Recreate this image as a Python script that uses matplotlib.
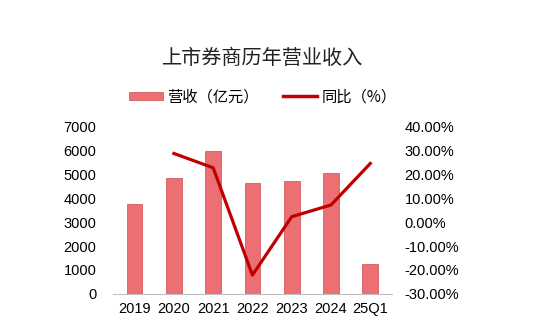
import matplotlib
matplotlib.use("Agg")
import matplotlib.pyplot as plt
from matplotlib.ticker import FuncFormatter
from matplotlib.lines import Line2D
from matplotlib.patches import Patch

categories = ["2019", "2020", "2021", "2022", "2023", "2024", "25Q1"]
revenue = [3780, 4860, 5970, 4640, 4720, 5070, 1260]
yoy_cats = ["2020", "2021", "2022", "2023", "2024", "25Q1"]
yoy = [28.8, 22.8, -22.2, 2.3, 7.2, 24.6]

plt.rcParams['font.family'] = ['Liberation Sans', 'Noto Sans CJK SC', 'DejaVu Sans']
cjk = ['Noto Sans CJK SC', 'DejaVu Sans']

fig = plt.figure(figsize=(5.5, 3.31), dpi=100)
ax = fig.add_axes([0.2055, 0.1127, 0.507, 0.5043])
x = list(range(len(categories)))
bar_color = "#EC7073"
ax.bar(x, revenue, width=0.4, color=bar_color, edgecolor="#D65C5F", linewidth=0.6, zorder=2)
ax.set_ylim(0, 7000)
ax.set_yticks(range(0, 7001, 1000))
ax.set_xlim(-0.55, 6.55)
ax.set_xticks(x)
ax.set_xticklabels(categories)
for s in ["top", "right", "left"]:
    ax.spines[s].set_visible(False)
ax.spines["bottom"].set_color("#BFBFBF")
ax.tick_params(axis="both", length=0, labelsize=10.5, colors="#000000")
ax.tick_params(axis="y", pad=12)
ax.tick_params(axis="x", pad=6)

ax2 = ax.twinx()
xi = [categories.index(c) for c in yoy_cats]
ax2.plot(xi, yoy, color="#C00000", linewidth=2.3, zorder=3)
ax2.set_ylim(-30, 40)
ax2.set_yticks(range(-30, 41, 10))
ax2.yaxis.set_major_formatter(FuncFormatter(lambda v, p: f"{v:.2f}%"))
for s in ["top", "right", "left", "bottom"]:
    ax2.spines[s].set_visible(False)
ax2.tick_params(axis="y", length=0, labelsize=10.5, pad=9)

fig.text(0.478, 0.822, "上市券商历年营业收入", fontsize=14.5, family=cjk, ha="center", va="center", color="#222222")

handles = [Patch(facecolor=bar_color, edgecolor="#D65C5F", linewidth=0.6),
           Line2D([0], [0], color="#C00000", linewidth=2.5)]
labels = ["营收（亿元）", "同比（%）"]
leg = fig.legend(handles, labels, loc="center", bbox_to_anchor=(0.478, 0.708), ncol=2,
                 frameon=False, prop={'family': cjk, 'size': 11}, handlelength=2.2,
                 handleheight=0.45, columnspacing=1.6, handletextpad=0.3)

fig.savefig("out.png", dpi=100)
